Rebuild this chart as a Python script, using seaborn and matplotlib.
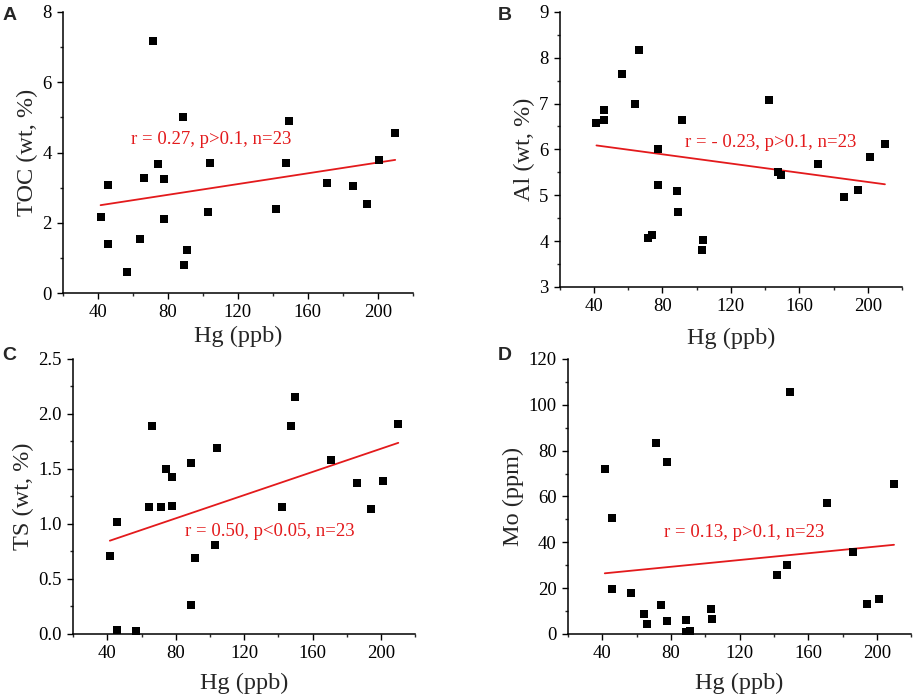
import numpy as np
import pandas as pd
import seaborn as sns
import matplotlib.pyplot as plt
from matplotlib.ticker import MultipleLocator

# Hg values (ppb), same 23 samples in all four panels
hg = [41.5, 45.7, 45.7, 56.6, 64.2, 66.3, 71.6, 74.1, 77.7, 77.7, 88.8, 89.1,
      91.2, 103.2, 104.0, 142.1, 147.6, 149.5, 170.9, 186.1, 194.1, 201.0, 210.0]
toc = [2.16, 3.08, 1.41, 0.59, 1.55, 3.27, 7.18, 3.67, 3.24, 2.11, 5.00, 0.80,
       1.23, 2.31, 3.69, 2.40, 3.71, 4.90, 3.12, 3.05, 2.53, 3.80, 4.56]
al = [6.58, 6.85, 6.64, 7.64, 6.99, 8.17, 4.07, 4.14, 6.00, 5.23, 5.09, 4.63,
      6.63, 3.80, 4.03, 7.07, 5.51, 5.44, 5.69, 4.96, 5.11, 5.83, 6.11]
ts = [0.71, 1.02, 0.04, 0.03, 1.15, 1.89, 1.15, 1.50, 1.43, 1.16, 1.55, 0.26,
      0.69, 0.81, 1.69, 1.15, 1.89, 2.15, 1.58, 1.37, 1.14, 1.39, 1.91]
mo = [72.0, 50.5, 19.5, 17.7, 8.7, 4.5, 83.2, 12.7, 75.2, 5.5, 6.3, 1.0,
      1.2, 11.1, 6.4, 25.6, 30.1, 105.5, 57.3, 35.8, 12.9, 15.1, 65.3]

df = pd.DataFrame({"Hg": hg, "TOC": toc, "Al": al, "TS": ts, "Mo": mo})

sns.set_style("ticks")
plt.rcParams["font.family"] = ["Liberation Serif", "DejaVu Serif"]
plt.rcParams["xtick.direction"] = "out"
plt.rcParams["ytick.direction"] = "out"

fig = plt.figure(figsize=(9.13, 6.98), dpi=100)

# column, ylabel, ylim, major, minor, letter, annotation, ann pos, axes rect, letter pos, xlabel pad
panels = [
    ("TOC", "TOC (wt, %)", (0, 8), 2, 1, "A", "r = 0.27, p>0.1, n=23", (105, 4.36),
     [0.069, 0.580, 0.383, 0.403], (0.003, 0.978), 3),
    ("Al", "Al (wt, %)", (3, 9), 1, 0.5, "B", "r = - 0.23, p>0.1, n=23", (143, 6.16),
     [0.613, 0.589, 0.375, 0.394], (0.545, 0.978), 9),
    ("TS", "TS (wt, %)", (0, 2.5), 0.5, 0.25, "C", "r = 0.50, p<0.05, n=23", (135, 0.93),
     [0.080, 0.0917, 0.375, 0.394], (0.003, 0.491), 8),
    ("Mo", "Mo (ppm)", (0, 120), 20, 10, "D", "r = 0.13, p>0.1, n=23", (122.5, 44.1),
     [0.622, 0.0917, 0.376, 0.394], (0.545, 0.491), 8),
]

for col, ylab, ylim, major, minor, letter, note, npos, rect, lpos, xpad in panels:
    ax = fig.add_axes(rect)
    sns.regplot(data=df, x="Hg", y=col, scatter=False, ci=None, ax=ax,
                line_kws={"color": "#e31a1c", "lw": 1.3})
    sns.scatterplot(data=df, x="Hg", y=col, marker="s", s=40, color="black",
                    edgecolor="black", linewidth=0, ax=ax, zorder=3)
    ax.set_xlim(20, 220)
    ax.set_ylim(*ylim)
    ax.xaxis.set_major_locator(MultipleLocator(40))
    ax.xaxis.set_minor_locator(MultipleLocator(20))
    ax.yaxis.set_major_locator(MultipleLocator(major))
    ax.yaxis.set_minor_locator(MultipleLocator(minor))
    ax.tick_params(which="major", length=4.5, width=1, labelsize=13.5, colors="black")
    ax.tick_params(which="minor", length=2.5, width=1)
    ax.set_xlabel("Hg (ppb)", fontsize=17.5, labelpad=xpad)
    ax.set_ylabel(ylab, fontsize=17.5, labelpad=3)
    for sp in ["left", "bottom"]:
        ax.spines[sp].set_linewidth(1.1)
        ax.spines[sp].set_color("black")
    sns.despine(ax=ax)
    ax.text(npos[0], npos[1], note, color="#e31a1c", fontsize=13.5,
            ha="center", va="center")
    fig.text(lpos[0], lpos[1], letter, fontsize=14, fontweight="bold",
             family=["Liberation Sans", "DejaVu Sans"], va="center")

fig.savefig("out.png", dpi=100)
